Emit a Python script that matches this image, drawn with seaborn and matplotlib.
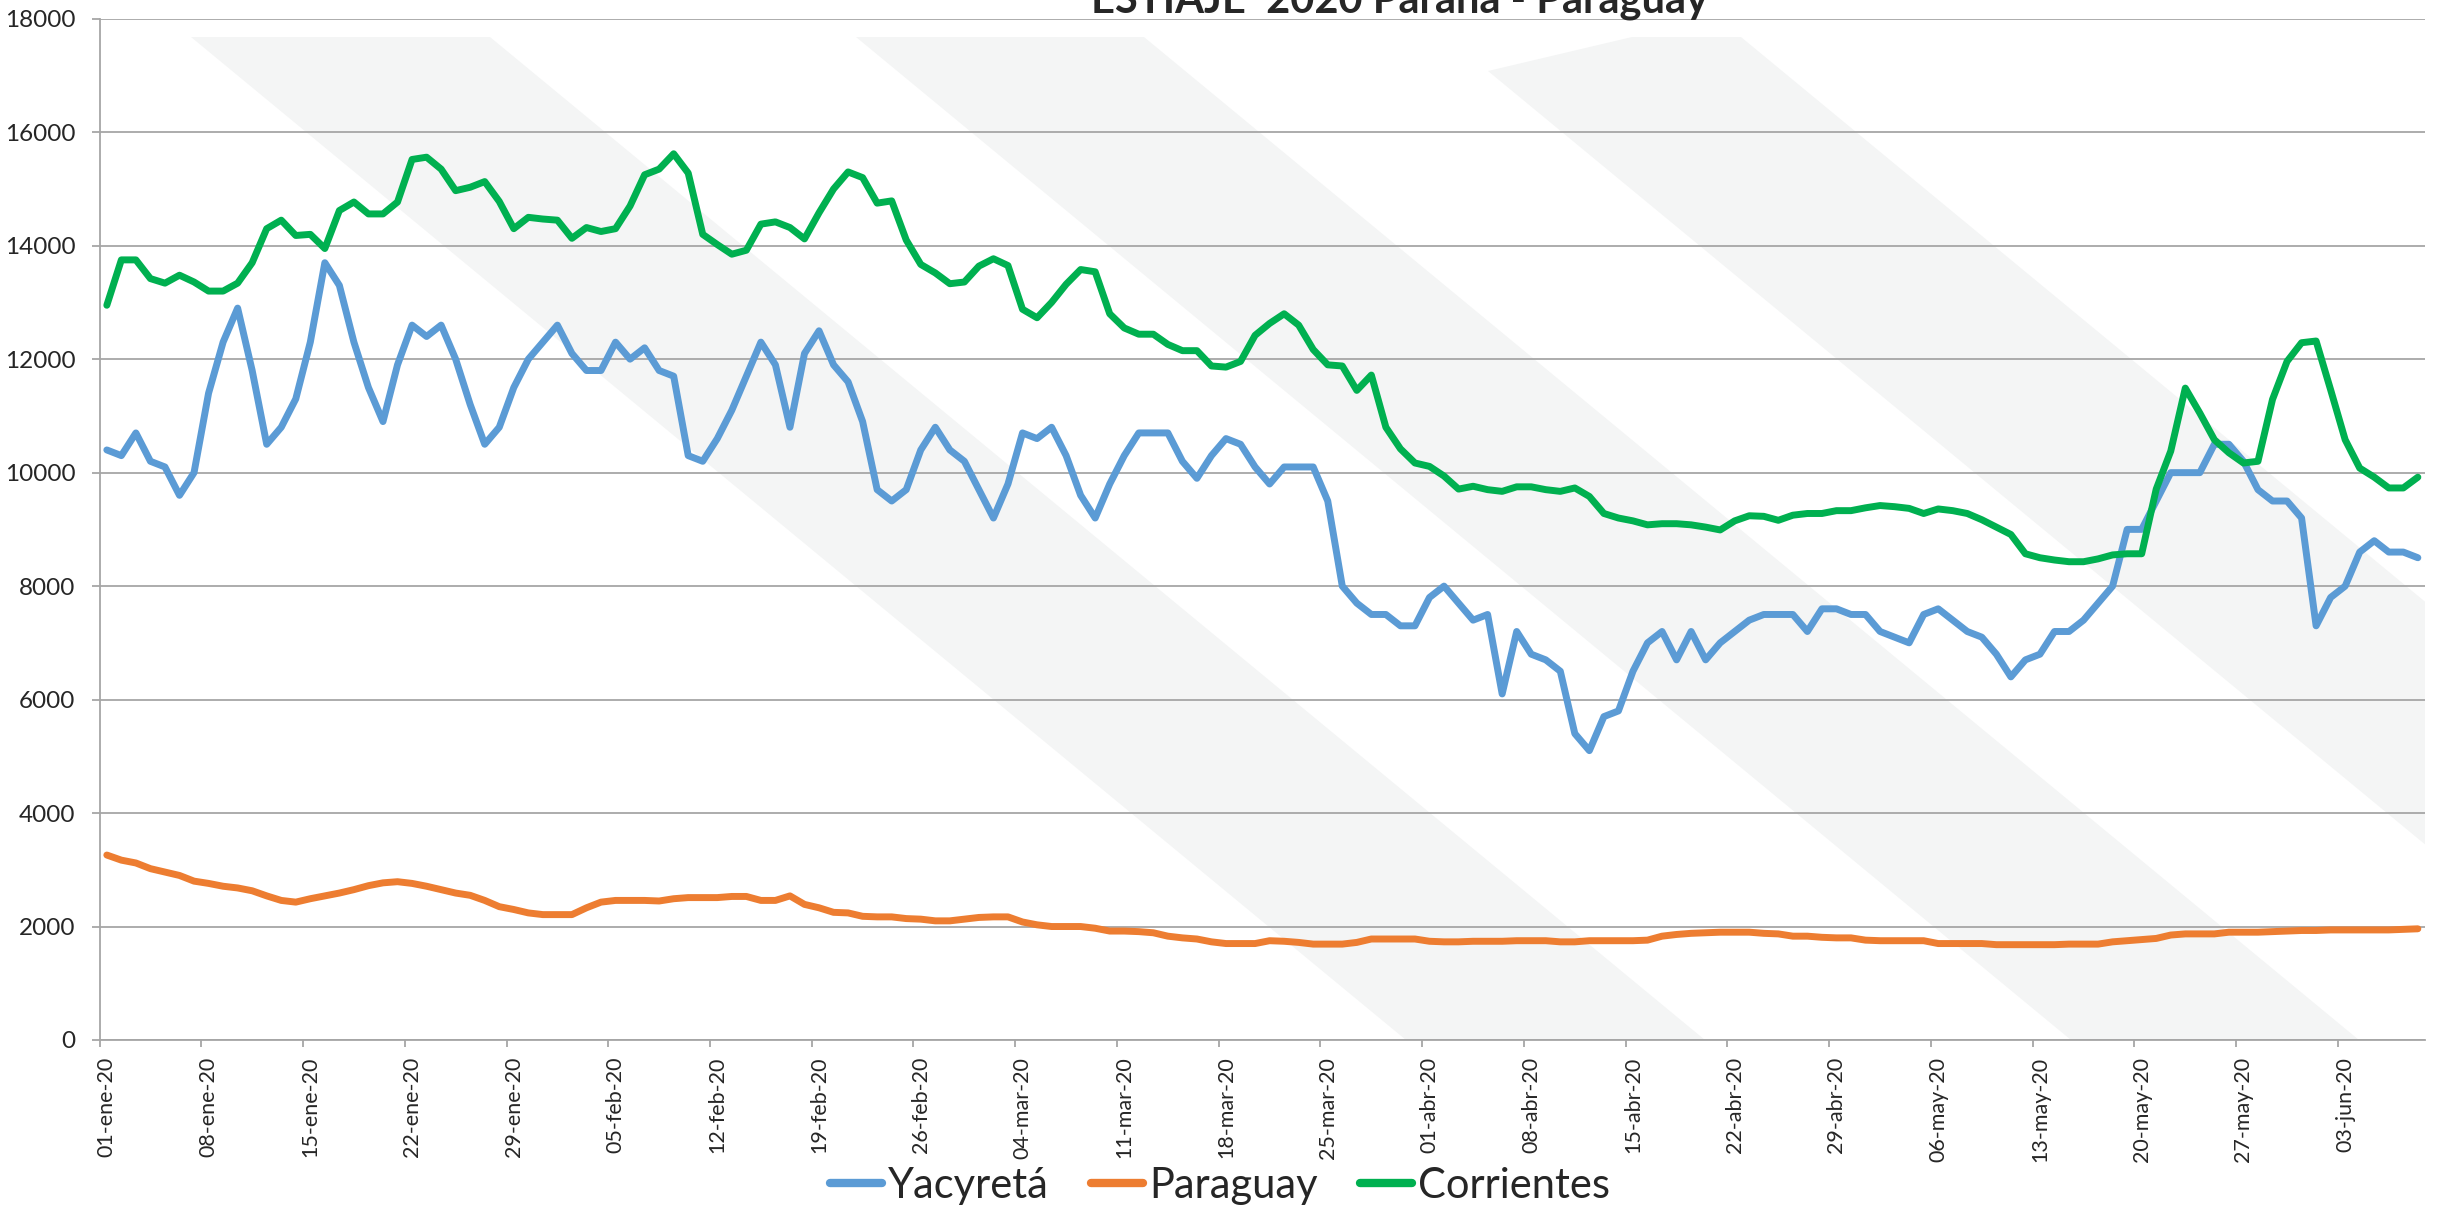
import numpy as np
import pandas as pd
import matplotlib
matplotlib.use("Agg")
import matplotlib.pyplot as plt
from matplotlib.lines import Line2D
from matplotlib.patches import Polygon
import seaborn as sns

# --- DATOS (un valor por dia: 01-ene-20 a 08-jun-20) ---
yacyreta_ene = [10400, 10300, 10700, 10200, 10100, 9600, 10000, 11400, 12300, 12900,
                11800, 10500, 10800, 11300, 12300, 13700, 13300, 12300, 11500, 10900,
                11900, 12600, 12400, 12600, 12000, 11200, 10500, 10800, 11500, 12000, 12300]
yacyreta_feb = [12600, 12100, 11800, 11800, 12300, 12000, 12200, 11800, 11700, 10300,
                10200, 10600, 11100, 11700, 12300, 11900, 10800, 12100, 12500, 11900,
                11600, 10900, 9700, 9500, 9700, 10400, 10800, 10400, 10200]
yacyreta_mar = [9700, 9200, 9800, 10700, 10600, 10800, 10300, 9600, 9200, 9800,
                10300, 10700, 10700, 10700, 10200, 9900, 10300, 10600, 10500, 10100,
                9800, 10100, 10100, 10100, 9500, 8000, 7700, 7500, 7500, 7300, 7300]
yacyreta_abr = [7800, 8000, 7700, 7400, 7500, 6100, 7200, 6800, 6700, 6500,
                5400, 5100, 5700, 5800, 6500, 7000, 7200, 6700, 7200, 6700,
                7000, 7200, 7400, 7500, 7500, 7500, 7200, 7600, 7600, 7500]
yacyreta_may = [7500, 7200, 7100, 7000, 7500, 7600, 7400, 7200, 7100, 6800,
                6400, 6700, 6800, 7200, 7200, 7400, 7700, 8000, 9000, 9000,
                9500, 10000, 10000, 10000, 10500, 10500, 10200, 9700, 9500, 9500, 9200]
yacyreta_jun = [7300, 7800, 8000, 8600, 8800, 8600, 8600, 8500]

paraguay_ene = [3260, 3170, 3120, 3020, 2960, 2900, 2800, 2760, 2710, 2680,
                2630, 2540, 2460, 2430, 2490, 2540, 2590, 2650, 2720, 2770,
                2790, 2760, 2710, 2650, 2590, 2550, 2460, 2350, 2300, 2240, 2210]
paraguay_feb = [2210, 2210, 2330, 2430, 2460, 2460, 2460, 2450, 2490, 2510,
                2510, 2510, 2530, 2530, 2460, 2460, 2540, 2390, 2330, 2250,
                2240, 2180, 2170, 2170, 2140, 2130, 2100, 2100, 2130]
paraguay_mar = [2160, 2170, 2170, 2080, 2030, 2000, 2000, 2000, 1970, 1920,
                1920, 1910, 1890, 1830, 1800, 1780, 1730, 1700, 1700, 1700,
                1750, 1740, 1720, 1690, 1690, 1690, 1720, 1780, 1780, 1780, 1780]
paraguay_abr = [1740, 1730, 1730, 1740, 1740, 1740, 1750, 1750, 1750, 1730,
                1730, 1750, 1750, 1750, 1750, 1760, 1830, 1860, 1880, 1890,
                1900, 1900, 1900, 1880, 1870, 1830, 1830, 1810, 1800, 1800]
paraguay_may = [1760, 1750, 1750, 1750, 1750, 1700, 1700, 1700, 1700, 1680,
                1680, 1680, 1680, 1680, 1690, 1690, 1690, 1730, 1750, 1770,
                1790, 1850, 1870, 1870, 1870, 1900, 1900, 1900, 1910, 1920, 1930]
paraguay_jun = [1930, 1940, 1940, 1940, 1940, 1940, 1950, 1960]

corrientes_ene = [12950, 13750, 13750, 13420, 13340, 13480, 13360, 13200, 13200, 13340,
                  13700, 14300, 14450, 14180, 14200, 13950, 14620, 14770, 14560, 14560,
                  14770, 15520, 15560, 15350, 14970, 15030, 15130, 14780, 14300, 14500, 14470]
corrientes_feb = [14450, 14130, 14320, 14250, 14300, 14700, 15250, 15350, 15620, 15280,
                  14200, 14020, 13850, 13920, 14380, 14420, 14320, 14120, 14580, 15000,
                  15300, 15200, 14750, 14790, 14100, 13670, 13520, 13330, 13360]
corrientes_mar = [13640, 13770, 13650, 12880, 12730, 13000, 13320, 13580, 13540, 12800,
                  12550, 12440, 12440, 12260, 12150, 12150, 11880, 11860, 11960, 12420,
                  12630, 12800, 12600, 12170, 11900, 11880, 11450, 11720, 10800, 10420, 10170]
corrientes_abr = [10110, 9940, 9710, 9760, 9700, 9670, 9750, 9750, 9700, 9670,
                  9730, 9580, 9280, 9200, 9150, 9080, 9100, 9100, 9080, 9040,
                  8990, 9150, 9240, 9230, 9160, 9250, 9280, 9280, 9330, 9330]
corrientes_may = [9380, 9420, 9400, 9370, 9280, 9360, 9330, 9280, 9170, 9040,
                  8910, 8570, 8500, 8460, 8430, 8430, 8480, 8550, 8570, 8570,
                  9710, 10380, 11490, 11050, 10580, 10350, 10170, 10200, 11290, 11960, 12290]
corrientes_jun = [12320, 11460, 10580, 10080, 9920, 9730, 9730, 9920]

yacyreta = yacyreta_ene + yacyreta_feb + yacyreta_mar + yacyreta_abr + yacyreta_may + yacyreta_jun
paraguay = paraguay_ene + paraguay_feb + paraguay_mar + paraguay_abr + paraguay_may + paraguay_jun
corrientes = corrientes_ene + corrientes_feb + corrientes_mar + corrientes_abr + corrientes_may + corrientes_jun

fechas = pd.date_range("2020-01-01", "2020-06-08", freq="D")

tick_labels = ['01-ene-20', '08-ene-20', '15-ene-20', '22-ene-20', '29-ene-20',
               '05-feb-20', '12-feb-20', '19-feb-20', '26-feb-20', '04-mar-20',
               '11-mar-20', '18-mar-20', '25-mar-20', '01-abr-20', '08-abr-20',
               '15-abr-20', '22-abr-20', '29-abr-20', '06-may-20', '13-may-20',
               '20-may-20', '27-may-20', '03-jun-20']

series = ['Yacyretá', 'Paraguay', 'Corrientes']
colores = ['#5B9BD5', '#ED7D31', '#00B050']

# --- ESTILO ---
sns.set_theme(style="white")
plt.rcParams['font.family'] = ['Lato', 'DejaVu Sans']

df = pd.DataFrame({'Dia': np.arange(len(fechas)),
                   'Yacyretá': yacyreta,
                   'Paraguay': paraguay,
                   'Corrientes': corrientes})
df_long = df.melt('Dia', var_name='Serie', value_name='Caudal')

W, H = 2440, 1210
fig = plt.figure(figsize=(W / 100, H / 100), dpi=100)
ax = fig.add_axes([0.0408, 0.1405, 0.9531, 0.844])

# marca de agua (bandas diagonales muy claras detras del grafico), en pixeles de figura
marca_agua = [
    [(191, 37), (490, 37), (1705, 1040), (1406, 1040)],
    [(856, 37), (1144, 37), (2359, 1040), (2071, 1040)],
    [(1488, 71), (1632, 37), (1741, 37), (2956, 1040), (2662, 1040)],
]
for forma in marca_agua:
    pts = [(x / W, 1 - y / H) for x, y in forma]
    ax.add_patch(Polygon(pts, closed=True, transform=fig.transFigure,
                         facecolor='#f4f5f5', edgecolor='none', zorder=0))

sns.lineplot(data=df_long, x='Dia', y='Caudal', hue='Serie', hue_order=series,
             palette=dict(zip(series, colores)), linewidth=5, legend=False,
             errorbar=None, sort=False, ax=ax,
             solid_joinstyle='round', solid_capstyle='round')

gris = '#a6a6a6'
ax.set_xlim(-0.5, len(fechas) - 0.5)
ax.set_ylim(0, 18000)
ax.set_yticks(np.arange(0, 18001, 2000))
ax.yaxis.grid(True, color=gris, linewidth=1.3)
ax.xaxis.grid(False)
ax.set_axisbelow(True)
ax.set_xlabel('')
ax.set_ylabel('')

# etiquetas centradas en el dia, marcas entre dias (como Excel)
ax.set_xticks(np.arange(0, len(fechas), 7))
ax.set_xticklabels(tick_labels, rotation=90)
ax.set_xticks(np.arange(-0.5, len(fechas), 7), minor=True)
ax.tick_params(axis='x', which='major', length=0, pad=12, labelsize=15.5, bottom=True)
ax.tick_params(axis='x', which='minor', length=5, width=1.3, color=gris, bottom=True)
ax.tick_params(axis='y', length=5.5, width=1.3, color=gris, pad=12, labelsize=17.5, left=True)

for s in ['top', 'right']:
    ax.spines[s].set_visible(False)
for s in ['left', 'bottom']:
    ax.spines[s].set_color(gris)
    ax.spines[s].set_linewidth(1.3)

fig.text(0.5735, 0.9893, 'ESTIAJE  2020 Paraná - Paraguay', ha='center', va='baseline',
         fontsize=30, fontweight='bold')

handles = [Line2D([], [], color=c, linewidth=6, solid_capstyle='round') for c in colores]
fig.legend(handles, series, loc='lower center', bbox_to_anchor=(0.5, -0.02), ncol=3,
           frameon=False, fontsize=30, handlelength=1.25, handletextpad=0.15,
           columnspacing=1.0, borderpad=0.2)

fig.savefig('out.png', dpi=100)
